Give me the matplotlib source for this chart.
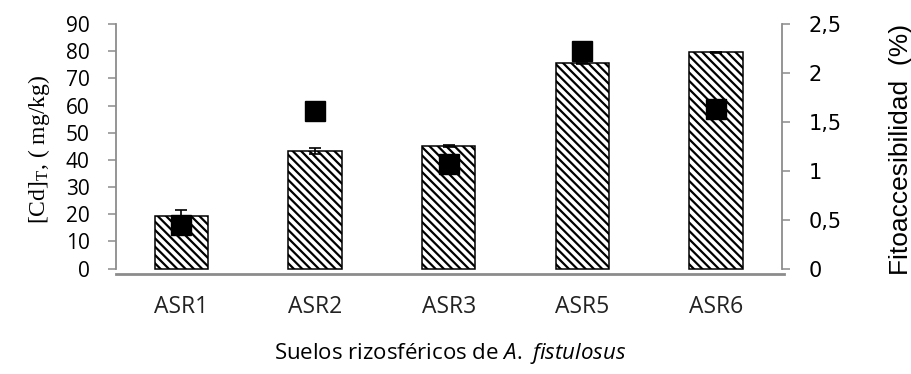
import numpy as np
import matplotlib
matplotlib.use("Agg")
import matplotlib.pyplot as plt
from matplotlib.transforms import ScaledTranslation

# data
suelos = ["ASR1", "ASR2", "ASR3", "ASR5", "ASR6"]
cd_total = [19.2, 43.2, 45.1, 75.5, 79.6]      # mg/kg (bars)
cd_err = [2.2, 1.1, 0.3, 0.2, 0.2]
fito = [0.445, 1.61, 1.07, 2.22, 1.63]          # % (squares)

left_ticks = [0, 10, 20, 30, 40, 50, 60, 70, 80, 90]
right_ticks = [0, 0.5, 1, 1.5, 2, 2.5]
right_labels = ["0", "0,5", "1", "1,5", "2", "2,5"]

plt.rcParams["mathtext.fontset"] = "custom"
plt.rcParams["mathtext.rm"] = "Liberation Serif"
plt.rcParams["mathtext.it"] = "Open Sans:italic"
plt.rcParams["hatch.linewidth"] = 1.6

gris = "#8c8c8c"

fig = plt.figure(figsize=(9.12, 3.74), dpi=100)
ax = fig.add_axes([116 / 912, 1 - 274 / 374, (784 - 116) / 912, 250 / 374])

x = np.arange(len(suelos))
ax.bar(x, cd_total, width=0.40, color="white", edgecolor="black",
       linewidth=1.1, hatch="\\\\\\\\", zorder=2)
ax.errorbar(x, cd_total, yerr=cd_err, fmt="none", ecolor="black",
            elinewidth=1.2, capsize=4.5, capthick=1.2, zorder=3)

ax.set_xlim(-0.49, 4.51)
ax.set_ylim(-2, 90)
ax.set_yticks(left_ticks)
ax.set_xticks(x)
ax.set_xticklabels(suelos, family="Open Sans", fontsize=16.5, color="#222222")
# labels in the original sit a little off the bar centres
for lab, dx in zip(ax.get_xticklabels(), [15, -3, 0, -7, -5]):
    lab.set_transform(lab.get_transform() + ScaledTranslation(dx / 100, 0, fig.dpi_scale_trans))
ax.tick_params(axis="x", length=0, pad=15)
ax.tick_params(axis="y", direction="out", length=6, width=1.1, color=gris,
               labelsize=15, pad=13)
for lab in ax.get_yticklabels():
    lab.set_family("Open Sans")

ax.spines["top"].set_visible(False)
ax.spines["right"].set_visible(False)
ax.spines["left"].set_color(gris)
ax.spines["left"].set_linewidth(1.3)
ax.spines["left"].set_bounds(0, 90)
ax.spines["bottom"].set_color(gris)
ax.spines["bottom"].set_linewidth(2)

ax.set_ylabel("[Cd]$_\\mathrm{T}$, ( mg/kg)", family="Liberation Serif",
              fontsize=17, labelpad=10)
ax.set_xlabel("Suelos rizosféricos de $\\mathit{A.\\ fistulosus}$",
              family="Open Sans", fontsize=16, labelpad=16)

ax2 = ax.twinx()
ax2.plot(x, fito, linestyle="none", marker="s", markersize=14,
         color="black", zorder=4)
ax2.set_ylim(-2 / 36, 2.5)
ax2.set_yticks(right_ticks)
ax2.set_yticklabels(right_labels, family="Open Sans")
ax2.tick_params(axis="y", direction="out", length=6, width=1.1, color=gris,
                labelsize=15, pad=13)
for s in ["top", "left", "bottom"]:
    ax2.spines[s].set_visible(False)
ax2.spines["right"].set_color(gris)
ax2.spines["right"].set_linewidth(1.3)
ax2.spines["right"].set_bounds(0, 2.5)
ax2.spines["right"].set_position(("axes", 0.997))
ax2.set_ylabel("Fitoaccesibilidad  (%)", family="Liberation Sans",
               fontsize=19, labelpad=34)

fig.savefig("out.png", dpi=100)
